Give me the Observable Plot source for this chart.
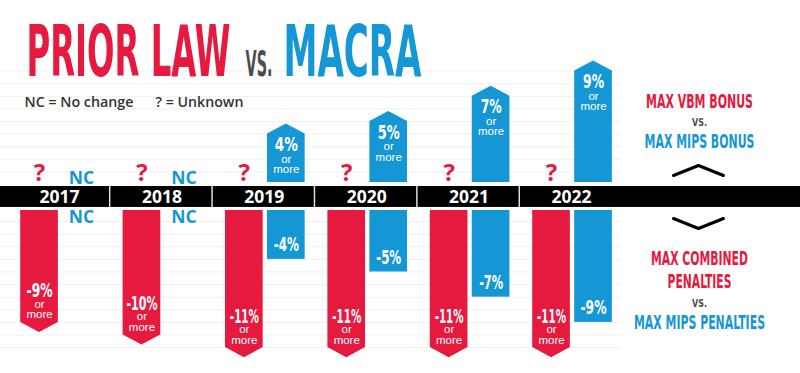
<!DOCTYPE html>
<html>
<head>
<meta charset="utf-8">
<script src="https://cdn.jsdelivr.net/npm/d3@7"></script>
<script src="https://cdn.jsdelivr.net/npm/@observablehq/plot@0.6"></script>
<style>
html,body{margin:0;padding:0;background:#fff;}
#chart svg{display:block;}
</style>
</head>
<body>
<div id="chart"></div>
<script>
// ---------------- data ----------------
const years = [2017, 2018, 2019, 2020, 2021, 2022];
const priorBonus = ["?", "?", "?", "?", "?", "?"];        // prior law: max VBM bonus unknown
const priorPenalty = [-9, -10, -11, -11, -11, -11];       // prior law: max combined penalties ("or more")
const macraBonus = [null, null, 4, 5, 7, 9];              // MACRA: max MIPS bonus (null = NC, "or more")
const macraPenalty = [null, null, -4, -5, -7, -9];        // MACRA: max MIPS penalties (null = NC)
const noChangeLabel = "NC";
const orMoreLines = ["or", "more"];
const titleParts = ["PRIOR LAW", "VS.", "MACRA"];
const legendItems = ["NC = No change", "? = Unknown"];
const bonusLegend = ["MAX VBM BONUS", "VS.", "MAX MIPS BONUS"];
const penaltyLegend = ["MAX COMBINED", "PENALTIES", "VS.", "MAX MIPS PENALTIES"];

// ---------------- style / layout ----------------
const RED = "#e6193e", BLUE = "#1597d6", INK = "#333333", GRAY = "#4d4d4d";
const COND = "'Liberation Sans Narrow', 'DejaVu Sans Condensed', 'Liberation Sans', sans-serif";
const SANS = "'Open Sans', 'Noto Sans', sans-serif";
const SMALL = "'Liberation Sans', Arial, sans-serif";
const W = 800, H = 373;
const colPx = 102.4, firstColPx = 59;     // x unit = one year column
const pctPx = 12.6, zeroPx = 184;         // y unit = one percentage point
const xDomain = [-firstColPx / colPx, (W - firstColPx) / colPx];
const yDomain = [-(H - zeroPx) / pctPx, zeroPx / pctPx];
const LOWER0 = -1.944;                    // zero of the penalty half (below the band)
const redOff = -0.195, blueOff = 0.215, halfW = 0.184, tip = 0.8;
const upBase = 0.16, downBase = LOWER0 - 0.12;
const bandTop = -0.16, bandBottom = -1.82, bandMid = (bandTop + bandBottom) / 2;
const legendCol = 6.24, chevHalf = 0.244;

const rows = years.map((year, i) => ({
  i, year: String(year),
  pb: priorBonus[i], pp: priorPenalty[i], mb: macraBonus[i], mp: macraPenalty[i]
}));
const pct = v => `${v}%`;
const orMore = orMoreLines.join("\n");
const arrowPts = (i, off, base, end, dir, id) =>
  [-1, 0, 1].map(k => ({id, x: i + off + k * halfW, y1: base, y2: k === 0 ? end + dir * tip : end}));
const redArrows = rows.flatMap(r => arrowPts(r.i, redOff, downBase, LOWER0 + r.pp, -1, "r" + r.i));
const upRows = rows.filter(r => r.mb != null);
const downRows = rows.filter(r => r.mp != null);
const ncUp = rows.filter(r => r.mb == null);
const ncDown = rows.filter(r => r.mp == null);
const blueUp = upRows.flatMap(r => arrowPts(r.i, blueOff, upBase, r.mb, 1, "b" + r.i));
const gridUpper = d3.range(1, 10);
const gridLower = d3.range(1, 12).map(k => LOWER0 - k);
const chevUp = [-1, 0, 1].map(k => ({x: legendCol + k * chevHalf, y: k === 0 ? 1.508 : 0.714}));
const chevDown = [-1, 0, 1].map(k => ({x: legendCol + k * chevHalf, y: k === 0 ? -3.492 : -2.698}));

// text placed relative to the frame (px offsets)
const titleLayout = [
  {text: titleParts[0], dx: 26, dy: 75, size: 72, fill: RED},
  {text: titleParts[1], dx: 245, dy: 75, size: 36, fill: GRAY},
  {text: titleParts[2], dx: 283, dy: 75, size: 72, fill: BLUE}
];
const keyLayout = [
  {text: legendItems[0], dx: 24, dy: 106},
  {text: legendItems[1], dx: 155, dy: 106}
];
const sideLayout = [
  {text: bonusLegend[0], dy: 107, size: 20, fill: RED},
  {text: bonusLegend[1], dy: 125, size: 11, fill: GRAY},
  {text: bonusLegend[2], dy: 147, size: 20, fill: BLUE},
  {text: penaltyLegend[0], dy: 264, size: 20, fill: RED},
  {text: penaltyLegend[1], dy: 287, size: 20, fill: RED},
  {text: penaltyLegend[2], dy: 306, size: 11, fill: GRAY},
  {text: penaltyLegend[3], dy: 328, size: 20, fill: BLUE}
];

const frameText = (layout, base) => layout.map(t => Plot.text([t.text], {
  frameAnchor: "top-left", text: d => d, dx: t.dx ?? base.dx, dy: t.dy,
  fontSize: t.size ?? base.size, fill: t.fill ?? base.fill, lineAnchor: "bottom",
  textAnchor: base.textAnchor, fontFamily: base.fontFamily, fontWeight: base.fontWeight
}));

const pctFont = {fill: "white", fontFamily: COND, fontWeight: 700, fontSize: 19, lineAnchor: "bottom"};
const smallFont = {fill: "white", fontFamily: SMALL, fontSize: 11.5, lineAnchor: "bottom", lineHeight: 0.92};

const svg = Plot.plot({
  width: W, height: H, margin: 0,
  x: {axis: null, domain: xDomain},
  y: {axis: null, domain: yDomain},
  style: {background: "white"},
  marks: [
    Plot.ruleY(gridUpper, {y: d => d, x1: () => xDomain[0], x2: () => years.length - 0.51, stroke: "#f0f0f0"}),
    Plot.ruleY(gridLower, {y: d => d, x1: () => xDomain[0], x2: () => years.length - 0.51, stroke: "#f0f0f0"}),
    // band with year labels
    Plot.rect([0], {y1: () => bandTop, y2: () => bandBottom, fill: "black"}),
    Plot.ruleX(rows.slice(0, -1), {x: r => r.i + 0.49, y1: () => bandTop, y2: () => bandBottom, stroke: "#dddddd", strokeWidth: 1.5}),
    Plot.text(rows, {x: r => r.i, y: () => bandMid, text: r => r.year, fill: "white",
      fontFamily: SANS, fontWeight: 700, fontSize: 17.5, lineAnchor: "middle"}),
    // bars
    Plot.area(redArrows, {x1: "x", y1: "y1", y2: "y2", z: "id", fill: RED}),
    Plot.area(blueUp, {x1: "x", y1: "y1", y2: "y2", z: "id", fill: BLUE}),
    Plot.rect(downRows, {x1: r => r.i + blueOff - halfW, x2: r => r.i + blueOff + halfW,
      y1: () => downBase, y2: r => LOWER0 + r.mp, fill: BLUE}),
    // unknown / no change markers
    Plot.text(rows, {x: r => r.i + redOff, y: () => 0, text: r => r.pb, dy: -4, lineAnchor: "bottom",
      fill: RED, fontFamily: SANS, fontWeight: 700, fontSize: 24}),
    Plot.text(ncUp, {x: r => r.i + blueOff, y: () => 0, text: () => noChangeLabel, dy: -1, lineAnchor: "bottom",
      fill: BLUE, fontFamily: SANS, fontWeight: 700, fontSize: 17.5}),
    Plot.text(ncDown, {x: r => r.i + blueOff, y: () => LOWER0, text: () => noChangeLabel, dy: 14.5, lineAnchor: "bottom",
      fill: BLUE, fontFamily: SANS, fontWeight: 700, fontSize: 17.5}),
    // red penalty labels
    Plot.text(rows, {x: r => r.i + redOff, y: r => LOWER0 + r.pp, text: r => pct(r.pp), dy: -25, ...pctFont}),
    Plot.text(rows, {x: r => r.i + redOff, y: r => LOWER0 + r.pp, text: () => orMore, dy: -4, ...smallFont}),
    // blue bonus labels
    Plot.text(upRows, {x: r => r.i + blueOff, y: r => r.mb, text: r => pct(r.mb), dy: 17, ...pctFont}),
    Plot.text(upRows, {x: r => r.i + blueOff, y: r => r.mb, text: () => orMore, dy: 39, ...smallFont}),
    // blue penalty labels
    Plot.text(downRows, {x: r => r.i + blueOff, y: r => LOWER0 + r.mp, text: r => pct(r.mp), dy: -8, ...pctFont}),
    // chevrons
    Plot.line(chevUp, {x: "x", y: "y", stroke: "black", strokeWidth: 3}),
    Plot.line(chevDown, {x: "x", y: "y", stroke: "black", strokeWidth: 3}),
    // title, key, side legend
    ...frameText(titleLayout, {textAnchor: "start", fontFamily: COND, fontWeight: 700}),
    ...frameText(keyLayout, {textAnchor: "start", fontFamily: SANS, fontWeight: 600, size: 15, fill: INK}),
    ...frameText(sideLayout, {textAnchor: "middle", fontFamily: COND, fontWeight: 700, dx: 699})
  ]
});
document.getElementById("chart").append(svg);

// condense text horizontally to the widths seen in the reference
const fit = {
  "PRIOR LAW|72": 204, "VS.|36": 27, "MACRA|72": 138,
  "NC = No change|15": 109, "? = Unknown|15": 88,
  "MAX VBM BONUS|20": 107, "VS.|11": 15, "MAX MIPS BONUS|20": 110,
  "MAX COMBINED|20": 97, "PENALTIES|20": 64, "MAX MIPS PENALTIES|20": 131,
  "-9%|19": 26, "-10%|19": 31, "-11%|19": 29, "4%|19": 23, "5%|19": 22, "7%|19": 21, "9%|19": 21,
  "-4%|19": 25, "-5%|19": 25, "-7%|19": 24
};
d3.select(svg).selectAll("text").each(function() {
  const fs = Math.round(parseFloat(getComputedStyle(this).fontSize));
  const w = fit[`${this.textContent}|${fs}`];
  if (w) {
    const natural = this.getComputedTextLength();
    if (natural > 0) {
      const sx = w / natural;
      const t = this.getAttribute("transform") || "";
      this.setAttribute("transform", `${t} scale(${sx},1)`);
    }
  }
});
</script>
</body>
</html>
